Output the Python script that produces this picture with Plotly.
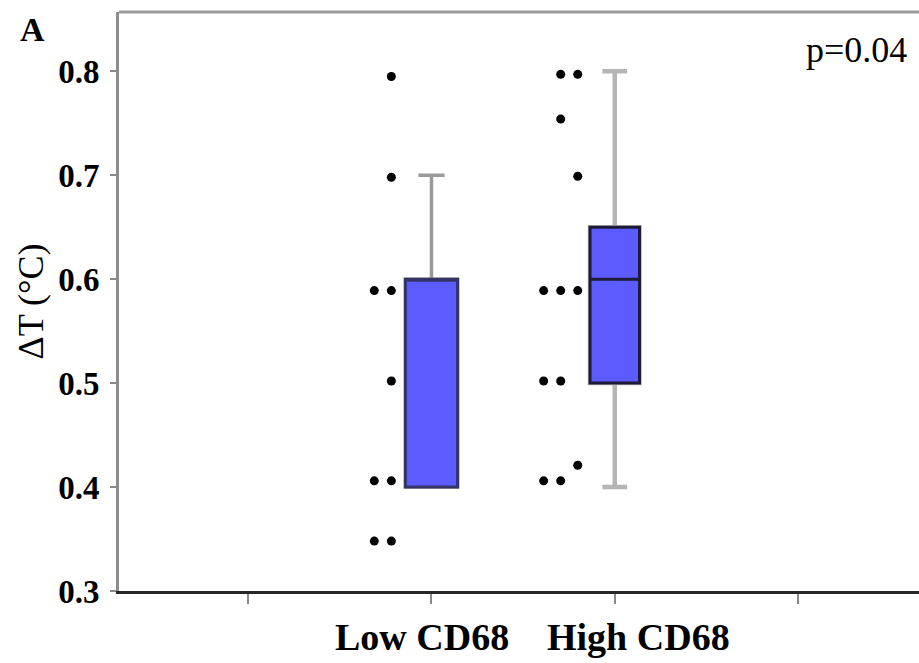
import plotly.graph_objects as go

# ---- data ----
groups = ["Low CD68", "High CD68"]
group_pos = [2, 3]
tick_vals = [1, 2, 3, 4]
label_pos = [1.95, 3.13]

q1 = [0.40, 0.50]
median = [0.60, 0.60]
q3 = [0.60, 0.65]
lower_whisker = [0.40, 0.40]
upper_whisker = [0.70, 0.80]

low_values = [0.795, 0.698, 0.589, 0.589, 0.502, 0.406, 0.406, 0.348, 0.348]
low_slots = [0, 0, 0, 1, 0, 0, 1, 0, 1]
high_values = [0.797, 0.797, 0.754, 0.699, 0.589, 0.589, 0.589, 0.502, 0.502, 0.421, 0.406, 0.406]
high_slots = [0, 1, 1, 0, 0, 1, 2, 1, 2, 0, 1, 2]

p_text = "p=0.04"
y_title = "ΔT (°C)"
panel = "A"

# ---- styling ----
FONT = "Liberation Serif"
FILL = "#5B5BFF"
whisker_colors = ["#9a9a9a", "#b5b5b5"]
whisker_widths = [3.5, 4.5]
outline_colors = ["#343466", "#1c1c3a"]
box_widths = [0.285, 0.27]
dot_anchor = [-0.219, -0.202]
dot_step = 0.093

fig = go.Figure()

for i in range(2):
    fig.add_trace(go.Box(
        x=[group_pos[i]], q1=[q1[i]], median=[median[i]], q3=[q3[i]],
        lowerfence=[lower_whisker[i]], upperfence=[upper_whisker[i]],
        width=box_widths[i], whiskerwidth=0.5, fillcolor=FILL,
        line=dict(color=whisker_colors[i], width=whisker_widths[i]),
        boxpoints=False, showlegend=False, hoverinfo="skip"))
    fig.add_trace(go.Box(
        x=[group_pos[i]], q1=[q1[i]], median=[median[i]], q3=[q3[i]],
        lowerfence=[q1[i]], upperfence=[q3[i]],
        width=box_widths[i], whiskerwidth=0, fillcolor=FILL,
        line=dict(color=outline_colors[i], width=3),
        boxpoints=False, showlegend=False, hoverinfo="skip"))

for gi, (vals, slots) in enumerate([(low_values, low_slots), (high_values, high_slots)]):
    xs = [group_pos[gi] + dot_anchor[gi] - s * dot_step for s in slots]
    fig.add_trace(go.Scatter(
        x=xs, y=vals, mode="markers",
        marker=dict(color="black", size=9), showlegend=False))

annotations = [
    dict(text=panel, xref="paper", yref="paper", x=-0.108, y=1.005,
         xanchor="center", yanchor="top", showarrow=False,
         font=dict(family=FONT, size=34, color="black", weight="bold")),
    dict(text=p_text, xref="paper", yref="paper", x=0.987, y=0.935,
         xanchor="right", yanchor="middle", showarrow=False,
         font=dict(family=FONT, size=36, color="black")),
]
for name, xp in zip(groups, label_pos):
    annotations.append(dict(
        text=name, xref="x", yref="paper", x=xp, y=-0.08,
        xanchor="center", yanchor="middle", showarrow=False,
        font=dict(family=FONT, size=38, color="black", weight="bold")))

fig.update_layout(
    width=919, height=663,
    margin=dict(l=119, r=0, t=12, b=72),
    paper_bgcolor="white", plot_bgcolor="white",
    boxmode="overlay",
    font=dict(family=FONT, color="black"),
    xaxis=dict(
        range=[0.295, 4.66], tickvals=tick_vals, ticktext=["", "", "", ""],
        showgrid=False, zeroline=False,
        showline=True, linecolor="#262626", linewidth=3,
        ticks="outside", ticklen=10, tickwidth=2, tickcolor="#8a8a8a",
    ),
    yaxis=dict(
        range=[0.3, 0.857], tickvals=[0.3, 0.4, 0.5, 0.6, 0.7, 0.8],
        ticktext=["0.3", "0.4", "0.5", "0.6", "0.7", "0.8"],
        showgrid=False, zeroline=False,
        showline=True, linecolor="#8c8c8c", linewidth=3,
        ticks="outside", ticklen=6, tickwidth=2, tickcolor="#8a8a8a",
        ticklabelstandoff=4,
        tickfont=dict(family=FONT, size=33, color="black", weight="bold"),
        title=dict(text=y_title, font=dict(family=FONT, size=36, color="black"),
                   standoff=4),
    ),
    shapes=[dict(type="line", xref="paper", yref="paper", x0=0, x1=1, y0=1, y1=1,
                 line=dict(color="#9a9a9a", width=3))],
    annotations=annotations,
)

fig.write_html("out.html")
